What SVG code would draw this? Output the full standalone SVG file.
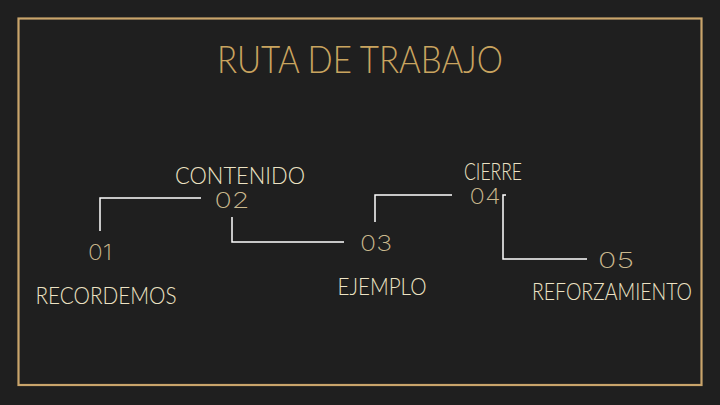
<svg xmlns="http://www.w3.org/2000/svg" width="720" height="405" viewBox="0 0 720 405">
<style>
.title{font-family:"Lato","Liberation Sans",sans-serif;font-weight:300;fill:#c9a45f;font-size:38px;text-anchor:middle}
.lbl{font-family:"Lato","Liberation Sans",sans-serif;font-weight:300;fill:#ede3c4;font-size:24px;text-anchor:middle}
.num{font-family:"Inter","Lato",sans-serif;font-weight:200;fill:#cbb98e;font-size:22px;text-anchor:middle}
.conn{fill:none;stroke:#ffffff;stroke-width:1.5}
</style>
<rect width="720" height="405" fill="#1f1f1f"/>
<rect x="18.5" y="18.5" width="683" height="366.5" fill="none" stroke="#c9a46b" stroke-width="2.2"/>
<text class="title" x="360" y="73" textLength="286" lengthAdjust="spacingAndGlyphs">RUTA DE TRABAJO</text>
<g id="connectors">
<polyline class="conn" points="201,198 100,198 100,231"/>
<polyline class="conn" points="232,217 232,242 344,242"/>
<polyline class="conn" points="375,222 375,195 452,195"/>
<polyline class="conn" points="506,195 503,195 503,259 587,259"/>
</g>
<g id="n1">
<text class="num" x="100" y="260" textLength="24" lengthAdjust="spacingAndGlyphs">01</text>
<text class="lbl" x="106" y="304" textLength="141" lengthAdjust="spacingAndGlyphs">RECORDEMOS</text>
</g>
<g id="n2">
<text class="lbl" x="240" y="184" textLength="130" lengthAdjust="spacingAndGlyphs">CONTENIDO</text>
<text class="num" x="232" y="208" textLength="35" lengthAdjust="spacingAndGlyphs">02</text>
</g>
<g id="n3">
<text class="num" x="376" y="251" textLength="32" lengthAdjust="spacingAndGlyphs">03</text>
<text class="lbl" x="382" y="295" textLength="89" lengthAdjust="spacingAndGlyphs">EJEMPLO</text>
</g>
<g id="n4">
<text class="lbl" x="493" y="180" textLength="58" lengthAdjust="spacingAndGlyphs">CIERRE</text>
<text class="num" x="485" y="204" textLength="31" lengthAdjust="spacingAndGlyphs">04</text>
</g>
<g id="n5">
<text class="num" x="616" y="268" textLength="36" lengthAdjust="spacingAndGlyphs">05</text>
<text class="lbl" x="612" y="300" font-size="22" textLength="160" lengthAdjust="spacingAndGlyphs">REFORZAMIENTO</text>
</g>
</svg>
